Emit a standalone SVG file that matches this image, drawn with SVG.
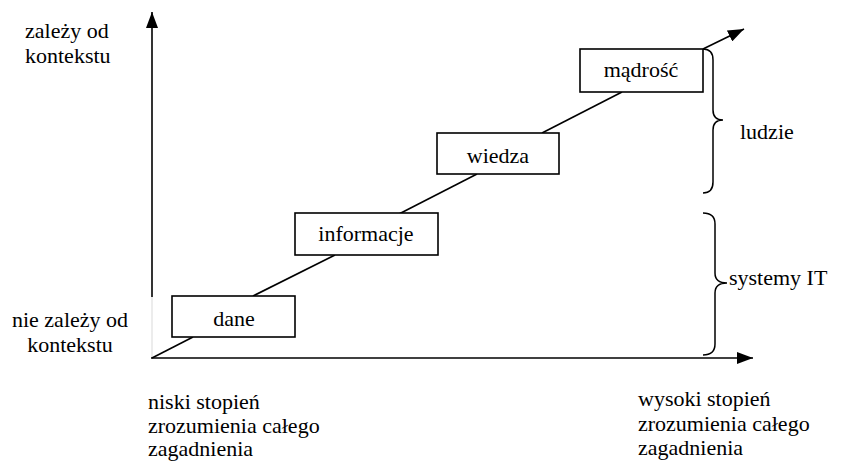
<svg xmlns="http://www.w3.org/2000/svg" width="841" height="461" viewBox="0 0 841 461">
<style>
text{font-size:22px;fill:#000}
.c{text-anchor:middle}
.box{fill:#fff;stroke:#000;stroke-width:1.6}
.ln{stroke:#000;stroke-width:1.6;fill:none}
.br{stroke:#000;stroke-width:1.5;fill:none}
</style>
<defs>
<marker id="ah" viewBox="0 0 16 12" refX="16" refY="6" markerWidth="16" markerHeight="12" markerUnits="userSpaceOnUse" orient="auto">
<path d="M0,0 L16,6 L0,12 z" fill="#000"/>
</marker>
</defs>
<g id="connectors">
<line x1="152" y1="358" x2="152" y2="297" stroke="#d9d9d9" stroke-width="1"/>
<line class="ln" x1="152" y1="297" x2="152" y2="12" marker-end="url(#ah)"/>
<line class="ln" x1="151" y1="358" x2="753" y2="358" marker-end="url(#ah)"/>
<line class="ln" x1="152" y1="358" x2="193" y2="337"/>
<line class="ln" x1="253" y1="296" x2="335" y2="255"/>
<line class="ln" x1="397" y1="215" x2="477" y2="174"/>
<line class="ln" x1="542" y1="133" x2="622" y2="92"/>
<line class="ln" x1="703" y1="49" x2="744" y2="29" marker-end="url(#ah)"/>
</g>
<g font-family="'Liberation Serif', 'Times New Roman', 'DejaVu Serif', serif">
<g id="dane"><rect class="box" x="172" y="296" width="123" height="41"/><text class="c" x="234" y="326">dane</text></g>
<g id="informacje"><rect class="box" x="295" y="213" width="143" height="42"/><text class="c" x="366" y="241">informacje</text></g>
<g id="wiedza"><rect class="box" x="437" y="133" width="122" height="41"/><text class="c" x="498" y="163">wiedza</text></g>
<g id="madrosc"><rect class="box" x="580" y="49" width="123" height="43"/><text class="c" x="641" y="77">mądrość</text></g>
<g id="brace-ludzie"><path class="br" d="M703,49 Q713,49 713,60 L713,110 Q713,120 723,120 Q713,120 713,130 L713,182 Q713,193 703,193"/><text x="740" y="139">ludzie</text></g>
<g id="brace-systemy"><path class="br" d="M703,213 Q715,213 715,224 L715,273 Q715,283 727,283 Q715,283 715,293 L715,344 Q715,355 703,355"/><text x="729" y="285">systemy IT</text></g>
<g id="label-top"><text x="25" y="38">zależy od</text><text x="25" y="63">kontekstu</text></g>
<g id="label-bottom"><text class="c" x="70" y="327">nie zależy od</text><text class="c" x="70" y="352">kontekstu</text></g>
<g id="label-low"><text x="148" y="409">niski stopień</text><text x="148" y="433">zrozumienia całego</text><text x="148" y="456">zagadnienia</text></g>
<g id="label-high"><text x="638" y="406">wysoki stopień</text><text x="638" y="431">zrozumienia całego</text><text x="638" y="455">zagadnienia</text></g>
</g>
</svg>
